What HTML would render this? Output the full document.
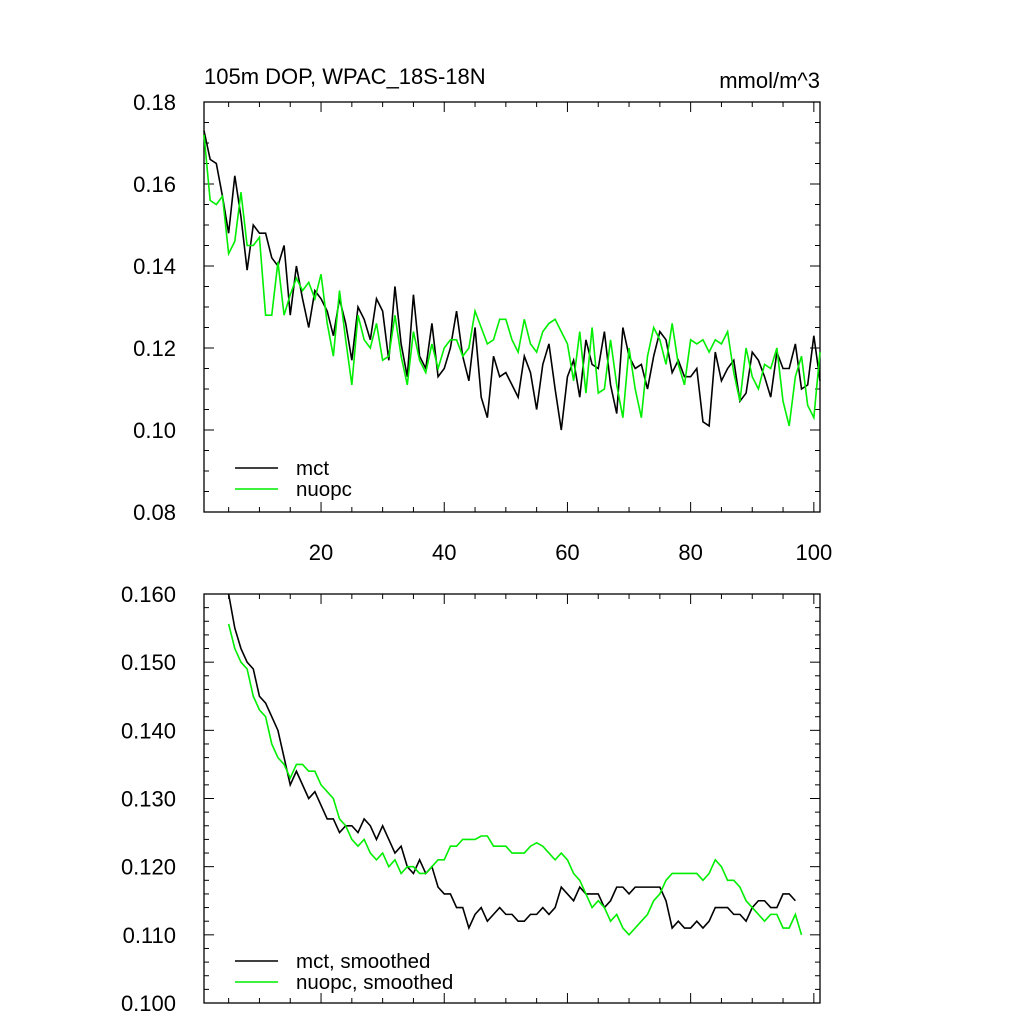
<!DOCTYPE html>
<html><head><meta charset="utf-8"><style>
body{margin:0;background:#fff}
svg{display:block;font-family:"Liberation Sans",sans-serif}
</style></head><body>
<svg id="c" width="1024" height="1024" viewBox="0 0 1024 1024">
<g id="g"></g>
</svg>
<script>
const mctTop=[.173,.166,.165,.157,.148,.162,.152,.139,.150,.148,.148,.142,.140,.145,.128,.140,.132,.125,.134,.132,.129,.123,.132,.126,.117,.130,.127,.122,.132,.129,.117,.135,.121,.113,.133,.118,.115,.126,.113,.115,.120,.129,.118,.112,.125,.108,.103,.118,.113,.114,.111,.108,.118,.114,.105,.116,.121,.110,.100,.113,.117,.108,.122,.116,.115,.124,.111,.104,.125,.118,.115,.116,.110,.118,.124,.122,.114,.117,.113,.113,.115,.102,.101,.119,.112,.115,.117,.107,.109,.119,.117,.113,.108,.119,.115,.115,.121,.110,.111,.123,.112];
const nuopcTop=[.172,.156,.155,.157,.143,.146,.158,.145,.145,.147,.128,.128,.141,.128,.133,.137,.134,.136,.132,.138,.126,.118,.134,.122,.111,.128,.122,.120,.126,.117,.118,.128,.118,.111,.124,.117,.114,.121,.115,.120,.122,.122,.118,.120,.129,.125,.121,.122,.127,.127,.122,.119,.127,.121,.119,.124,.126,.127,.124,.121,.112,.124,.109,.125,.109,.110,.122,.111,.103,.120,.110,.103,.118,.125,.122,.116,.126,.116,.111,.122,.121,.122,.119,.122,.121,.124,.114,.107,.120,.113,.110,.116,.115,.120,.107,.101,.113,.118,.106,.103,.119];
const mctSm=[.160,.155,.152,.150,.149,.145,.144,.142,.140,.136,.132,.134,.132,.130,.131,.129,.127,.127,.125,.126,.126,.125,.127,.126,.124,.126,.124,.122,.123,.120,.119,.121,.119,.120,.117,.116,.116,.114,.114,.111,.113,.114,.112,.113,.114,.113,.113,.112,.112,.113,.113,.114,.113,.114,.117,.116,.115,.117,.116,.116,.116,.114,.115,.117,.117,.116,.117,.117,.117,.117,.117,.115,.111,.112,.111,.111,.112,.111,.112,.114,.114,.114,.113,.113,.112,.114,.115,.115,.114,.114,.116,.116,.115];
const nuopcSm=[.1556,.152,.150,.149,.145,.143,.142,.138,.136,.135,.133,.135,.135,.134,.134,.132,.131,.130,.127,.126,.124,.123,.124,.122,.121,.122,.120,.121,.119,.120,.120,.119,.119,.120,.121,.121,.123,.123,.124,.124,.124,.1245,.1245,.123,.123,.123,.122,.122,.122,.123,.1235,.123,.122,.121,.122,.121,.119,.118,.116,.114,.115,.114,.112,.113,.111,.110,.111,.112,.113,.115,.116,.118,.119,.119,.119,.119,.119,.118,.119,.121,.120,.118,.118,.117,.115,.114,.113,.112,.113,.113,.111,.111,.113,.110];
const xTicks=[20,40,60,80,100];
const topYTicks=["0.08","0.10","0.12","0.14","0.16","0.18"];
const botYTicks=["0.100","0.110","0.120","0.130","0.140","0.150","0.160"];
const NS="http://www.w3.org/2000/svg",g=document.getElementById('g');
function el(t,a,txt){const e=document.createElementNS(NS,t);for(const k in a)e.setAttribute(k,a[k]);if(txt!==undefined)e.textContent=txt;g.appendChild(e);return e;}
const L=204,R=820;
const xs=v=>L+(v-1)*(R-L)/100;
function panel(top,bot,ymin,ymax,major,minor,yt,labelsX,name){
 const ys=v=>bot-(v-ymin)/(ymax-ymin)*(bot-top);
 let f=el('rect',{x:L,y:top,width:R-L,height:bot-top,fill:'none',stroke:'#000','stroke-width':1.3});
 
 for(let v=ymin;v<=ymax+1e-9;v+=minor){const y=ys(v);const isM=Math.abs(Math.round((v-ymin)/major)*major-(v-ymin))<1e-9;const len=isM?10:5;
  el('line',{x1:L,x2:L+len,y1:y,y2:y,stroke:'#000'});el('line',{x1:R,x2:R-len,y1:y,y2:y,stroke:'#000'});}
 yt.forEach(s=>{const t=el('text',{x:L-28,y:ys(parseFloat(s))+8,'text-anchor':'end','font-size':22},s);});
 for(let v=5;v<=100;v+=5){const x=xs(v);const len=v%20==0?10:5;el('line',{x1:x,x2:x,y1:bot,y2:bot-len,stroke:'#000'});el('line',{x1:x,x2:x,y1:top,y2:top+len,stroke:'#000'});}
 if(labelsX)xTicks.forEach(v=>{const t=el('text',{x:xs(v),y:bot+48,'text-anchor':'middle','font-size':22},v);});
 return ys;
}
function line(data,x0,ys,col,name){const p=el('polyline',{points:data.map((v,i)=>xs(x0+i)+','+ys(v)).join(' '),fill:'none',stroke:col,'stroke-width':1.6});}
function legend(y,col,txt,name){const l=el('line',{x1:235,x2:278,y1:y,y2:y,stroke:col,'stroke-width':1.6});const t=el('text',{x:296,y:y+7,'font-size':20.5},txt);}
const ys1=panel(102,512,0.08,0.18,0.02,0.005,topYTicks,true,'top-plot');
line(mctTop,1,ys1,'#000','mct-line');line(nuopcTop,1,ys1,'#00ee00','nuopc-line');
legend(468,'#000','mct','legend-mct');legend(489,'#00ee00','nuopc','legend-nuopc');
let t=el('text',{x:204,y:84,'font-size':22},'105m DOP, WPAC_18S-18N');
t=el('text',{x:820,y:88,'text-anchor':'end','font-size':22},'mmol/m^3');
const ys2=panel(594,1003,0.100,0.160,0.01,0.002,botYTicks,false,'bottom-plot');
line(mctSm,5,ys2,'#000','mct-smoothed-line');line(nuopcSm,5,ys2,'#00ee00','nuopc-smoothed-line');
legend(961,'#000','mct, smoothed','legend-mct-smoothed');legend(982,'#00ee00','nuopc, smoothed','legend-nuopc-smoothed');
</script>
</body></html>
